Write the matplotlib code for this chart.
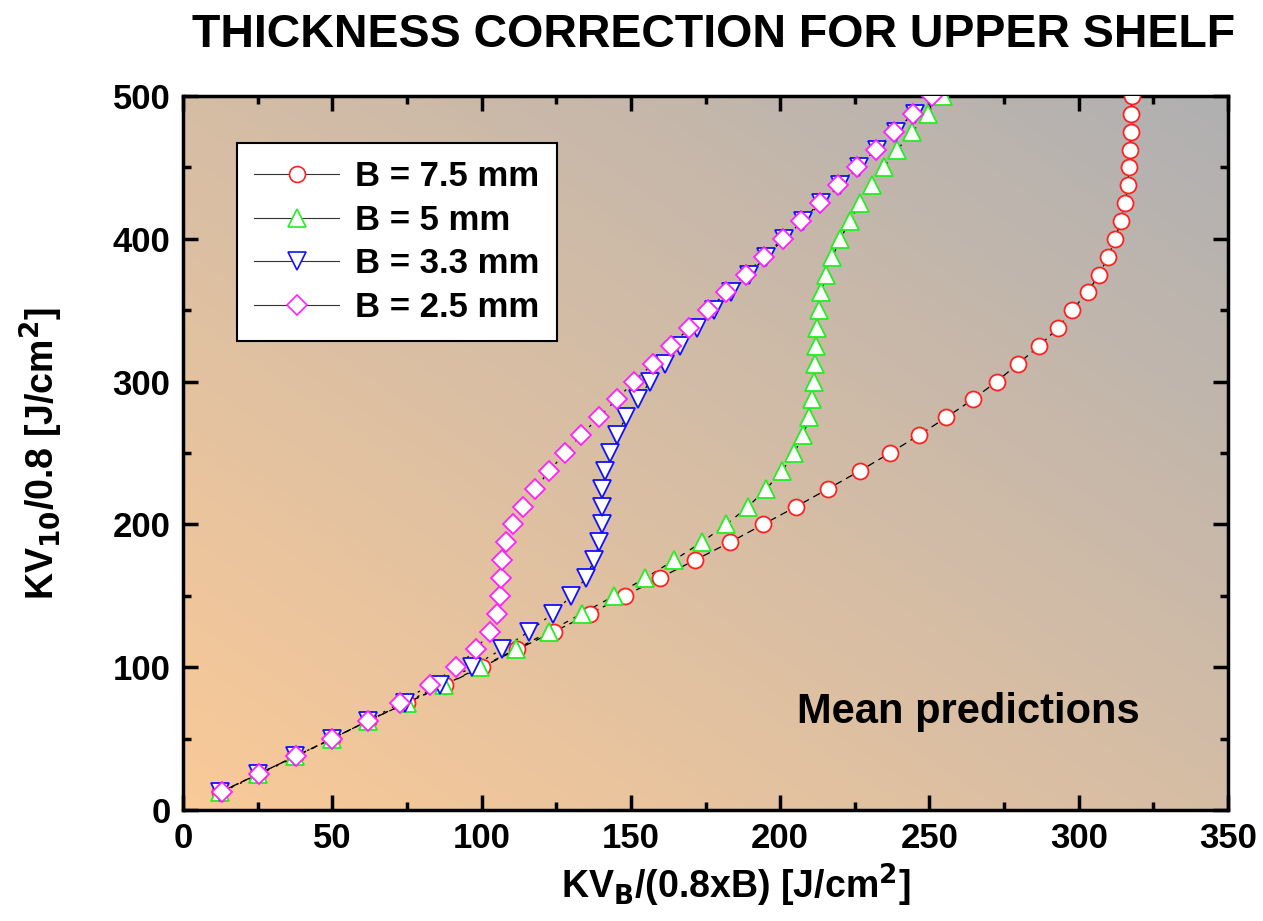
import numpy as np
import matplotlib
matplotlib.use("Agg")
import matplotlib.pyplot as plt
from matplotlib.lines import Line2D

plt.rcParams['font.family'] = ['Liberation Sans', 'DejaVu Sans']
plt.rcParams['font.weight'] = 'bold'
plt.rcParams['mathtext.default'] = 'bf'

# ---- data ----
y_levels = [12.5 * k for k in range(1, 41)]

x_b75 = [12.5, 25, 37.5, 50, 62, 75, 87.7, 100, 112, 124.4, 136.3, 148, 159.7, 171.5,
         183.2, 194.3, 205.4, 216.1, 226.7, 236.8, 246.5, 255.7, 264.5, 272.5, 279.7,
         286.8, 293, 297.7, 303, 306.8, 309.9, 312.3, 314, 315.6, 316.4, 316.9, 317.1,
         317.4, 317.5, 317.8]

x_b5 = [12.5, 25, 37.5, 50, 62, 75, 87.5, 99.5, 111.5, 122.7, 133.5, 144.5, 154.9, 164.5,
        173.7, 182, 189.3, 195.4, 200.7, 204.7, 207.7, 209.7, 210.8, 211.4, 211.8, 211.9,
        212.4, 213.1, 213.8, 215.5, 217.5, 220.2, 223.3, 226.7, 230.6, 234.8, 239.3,
        244.3, 249.5, 254.5]

x_b33 = [12.5, 25, 37.5, 50, 62, 74.5, 86, 96.7, 106.7, 115.9, 123.8, 130.1, 134.9, 137.7,
         139.4, 140.2, 140.2, 140.5, 141.3, 143, 145.2, 148.4, 152.3, 156.4, 161.4, 166.4,
         172.3, 177.9, 183.7, 189.5, 195.2, 201.3, 207.5, 213.8, 220, 226.3, 232.5, 238.7,
         245, 251]

x_b25 = [13, 25.5, 38, 50, 62, 72.7, 82.7, 91.5, 98.3, 102.7, 105.2, 106.2, 106.6, 106.9,
         108.2, 110.6, 114, 118, 122.7, 127.9, 133.3, 139.3, 145.2, 151, 157.4, 163.3,
         169.6, 175.7, 182, 188.4, 194.6, 200.8, 207, 213.3, 219.5, 225.8, 232.1, 238.2,
         244.6, 250.7]

labels = ['B = 7.5 mm', 'B = 5 mm', 'B = 3.3 mm', 'B = 2.5 mm']
colors = ['#FF2020', '#22EE22', '#1010FF', '#FF20FF']
markers = ['o', '^', 'v', 'D']
msizes = [11.5, 13, 13, 10]
dashes = [(6, 4), (4, 5), (2, 5), (2, 6)]

x_ticks = [0, 50, 100, 150, 200, 250, 300, 350]
y_ticks = [0, 100, 200, 300, 400, 500]

fig = plt.figure(figsize=(12.63, 9.21), dpi=100)
ax = fig.add_axes([183/1263, 1 - 810/921, 1045/1263, 714/921])

# background gradient
n = 300
u = np.linspace(0, 1, n)
U, V = np.meshgrid(u, u[::-1])
t = (U + V) / 2.0
c0 = np.array([250, 202, 152]) / 255.0
c1 = np.array([176, 176, 178]) / 255.0
img = c0[None, None, :] * (1 - t[..., None]) + c1[None, None, :] * t[..., None]
ax.imshow(img, extent=(0, 1, 0, 1), transform=ax.transAxes, aspect='auto', zorder=0)

series = [x_b75, x_b5, x_b33, x_b25]
for xs, lab, col, mk, ms, ds in zip(series, labels, colors, markers, msizes, dashes):
    ax.plot(xs, y_levels, color='black', lw=0.9, dashes=ds, zorder=2)
    ax.plot(xs, y_levels, linestyle='none', marker=mk, ms=ms, mfc='white', mec=col,
            mew=1.3, zorder=3)

ax.set_xlim(0, 350)
ax.set_ylim(0, 500)
ax.set_xticks(x_ticks)
ax.set_yticks(y_ticks)
ax.set_xticks(np.arange(25, 350, 50), minor=True)
ax.set_yticks(np.arange(50, 500, 100), minor=True)
ax.tick_params(which='both', direction='in', top=True, right=True, labelsize=25,
               width=2.5, pad=9)
ax.tick_params(which='major', length=11)
ax.tick_params(which='minor', length=6)
for lab in ax.get_xticklabels() + ax.get_yticklabels():
    lab.set_fontweight('bold')
for s in ax.spines.values():
    s.set_linewidth(2.5)

ax.set_xlabel(r'KV$_\mathbf{B}$/(0.8xB) [J/cm$^\mathbf{2}$]', fontsize=27, fontweight='bold')
ax.set_ylabel(r'KV$_\mathbf{10}$/0.8 [J/cm$^\mathbf{2}$]', fontsize=27, fontweight='bold')
ax.xaxis.set_label_coords(0.529, -0.073)
ax.yaxis.set_label_coords(-0.113, 0.5)

fig.text(0.565, 0.962, 'THICKNESS CORRECTION FOR UPPER SHELF', ha='center', va='center',
         fontsize=33.5, fontweight='bold')

ax.text(0.916, 0.137, 'Mean predictions', transform=ax.transAxes, ha='right', va='center',
        fontsize=30, fontweight='bold')

handles = [Line2D([0], [0], color='#333333', lw=0.8, marker=mk, ms=ms, mfc='white', mec=col,
                  mew=1.2) for mk, ms, col in zip(markers, msizes, colors)]
leg = ax.legend(handles, labels, loc='upper left', bbox_to_anchor=(0.0517, 0.934),
                borderaxespad=0, frameon=True, fancybox=False, edgecolor='black',
                framealpha=1, prop={'weight': 'bold', 'size': 25}, handlelength=2.45,
                labelspacing=0.3, borderpad=0.5, handletextpad=0.45)
leg.get_frame().set_linewidth(1.5)

fig.savefig('out.png', dpi=100)
